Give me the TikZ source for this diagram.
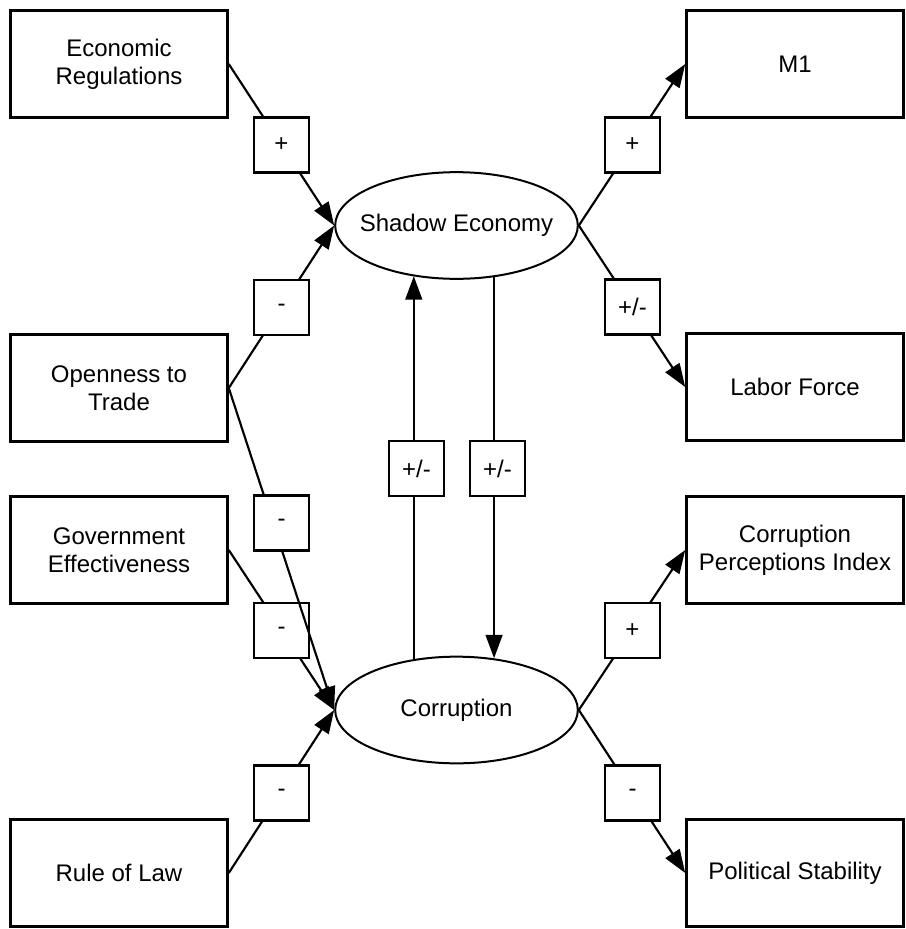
\documentclass[tikz,border=0pt]{standalone}
\usepackage{fontspec}
\setmainfont{Liberation Sans}
\usetikzlibrary{arrows.meta,shapes.geometric}
\begin{document}
\begin{tikzpicture}[x=0.75pt,y=-0.75pt,
  every node/.style={font=\fontsize{18}{21}\selectfont},
  var/.style={draw,line width=1.9pt,minimum width=162.75pt,minimum height=80.25pt,align=center,inner sep=0pt},
  latent/.style={ellipse,draw,line width=1.5pt,minimum width=182pt,minimum height=80pt,inner sep=0pt},
  sign/.style={draw,fill=white,line width=1.9pt,minimum size=41pt,inner sep=0pt},
  wire/.style={line width=1.6pt},
  link/.style={wire,-{Triangle[length=17.5pt,width=12.5pt]}}
]
\useasboundingbox (0,0) rectangle (906,929);

% indicator variables, left column
\node[var] (er) at (119,64)  {Economic\\Regulations};
\node[var] (ot) at (119,388) {Openness to\\Trade};
\node[var] (ge) at (119,550) {Government\\Effectiveness};
\node[var] (rl) at (119,873) {Rule of Law};

% indicator variables, right column
\node[var] (m1)  at (795,64)  {M1};
\node[var] (lf)  at (795,387) {Labor Force};
\node[var] (cpi) at (795,550) {Corruption\\Perceptions Index};
\node[var] (ps)  at (795,873) {Political Stability};

% latent variables (text boxed to zero width so both ellipses keep one size)
\node[latent] (se) at (456.5,225.5) {\makebox[0pt]{Shadow Economy}};
\node[latent] (co) at (456.5,710)   {\makebox[0pt]{Corruption}};

% causes of the shadow economy
\draw[link] (er.east) -- (se.west);
\node[sign] (s1) at (281.5,145) {+};
\draw[link] (ot.east) -- (se.west);
\node[sign] (s2) at (281.5,307.5) {-};

% causes of corruption
\draw[link] (ge.east) -- (co.west);
\node[sign] (s4) at (281.5,630.5) {-};
\draw[link] (ot.east) -- (co.west);
\node[sign] (s3) at (281.5,523) {-};
\draw[link] (rl.east) -- (co.west);
\node[sign] (s5) at (281.5,793) {-};

% indicators of the shadow economy
\draw[link] (se.east) -- (m1.west);
\node[sign] (s6) at (632.5,145) {+};
\draw[link] (se.east) -- (lf.west);
\node[sign] (s7) at (632.5,307) {+/-};

% indicators of corruption
\draw[link] (co.east) -- (cpi.west);
\node[sign] (s8) at (632.5,630.5) {+};
\draw[link] (co.east) -- (ps.west);
\node[sign] (s9) at (632.5,793) {-};

% feedback between the two latent variables
\draw[link] (co.130.3) -- (co.130.3 |- se.229.7);
\node[sign] (s10) at (416.5,468.5) {+/-};
\draw[link] (se.-54.4) -- (se.-54.4 |- co.54.4);
\node[sign] (s11) at (497.5,468.5) {+/-};
\end{tikzpicture}
\end{document}
